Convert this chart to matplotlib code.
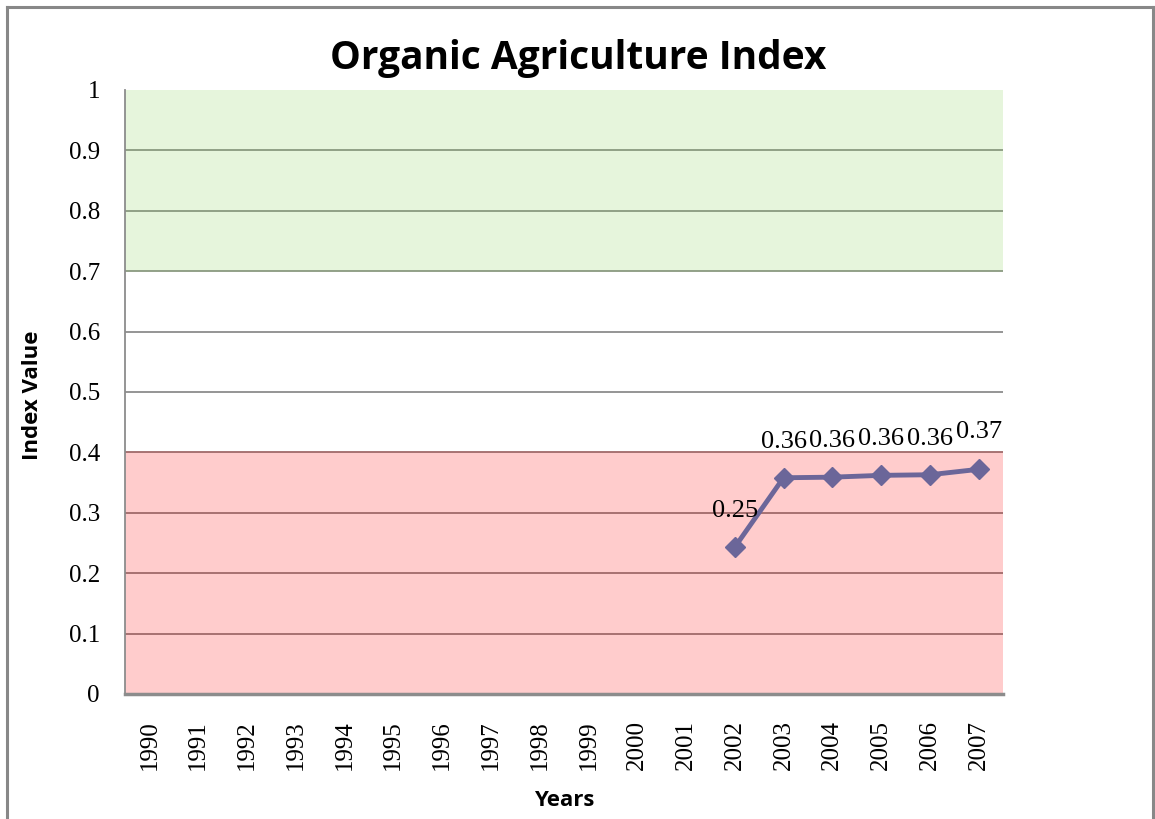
import matplotlib
matplotlib.use("Agg")
import matplotlib.pyplot as plt
from matplotlib.lines import Line2D

years = [str(y) for y in range(1990, 2008)]
index_values = [None] * 12 + [0.243, 0.358, 0.359, 0.362, 0.363, 0.372]
data_labels = [None] * 12 + ["0.25", "0.36", "0.36", "0.36", "0.36", "0.37"]
yticks = [0, 0.1, 0.2, 0.3, 0.4, 0.5, 0.6, 0.7, 0.8, 0.9, 1.0]
ytick_labels = ["0", "0.1", "0.2", "0.3", "0.4", "0.5", "0.6", "0.7", "0.8", "0.9", "1"]
red_band = (0.0, 0.4)
green_band = (0.7, 1.0)

W, H = 1155, 819
fig = plt.figure(figsize=(W / 100, H / 100), dpi=100)
left, right, top, bottom = 125, 1003, 90, 694
ax = fig.add_axes([left / W, 1 - bottom / H, (right - left) / W, (bottom - top) / H])

n = len(years)
ax.set_xlim(-0.5, n - 0.5)
ax.set_ylim(0, 1)

ax.axhspan(*red_band, color="#FFCCCC", zorder=0, lw=0)
ax.axhspan(*green_band, color="#E6F5DC", zorder=0, lw=0)

for v in yticks[1:-1]:
    if v <= red_band[1] + 1e-9:
        c = "#A06A6A"
    elif v >= green_band[0] - 1e-9:
        c = "#8A9A80"
    else:
        c = "#8C8C8C"
    ax.axhline(v, color=c, lw=1.3, zorder=1)

xs = [i for i, v in enumerate(index_values) if v is not None]
ys = [v for v in index_values if v is not None]
ax.plot(xs, ys, color="#6B6699", lw=3.5, marker="D", ms=10.5, zorder=3)

for i, (v, lab) in enumerate(zip(index_values, data_labels)):
    if v is None:
        continue
    off = 27 if i == n - 1 else 26
    ax.annotate(lab, (i, v), xytext=(0, off), textcoords="offset points",
                ha="center", va="center", fontsize=19, family="Liberation Serif")

ax.set_xticks(range(n))
ax.set_xticklabels(years, rotation=90, fontsize=18, family="Liberation Serif")
ax.set_yticks(yticks)
ax.set_yticklabels(ytick_labels, fontsize=18, family="Liberation Serif")
ax.tick_params(axis="both", length=0)
ax.tick_params(axis="x", pad=19)
ax.tick_params(axis="y", pad=18)

for s in ["top", "right"]:
    ax.spines[s].set_visible(False)
ax.spines["left"].set_color("#8C8C8C")
ax.spines["left"].set_linewidth(1.3)
ax.spines["bottom"].set_color("#8C8C8C")
ax.spines["bottom"].set_linewidth(2.5)

fig.text(564 / W, 1 - 800 / H, "Years", ha="center", va="center",
         fontsize=16, fontweight="bold", family="Open Sans")
fig.text(33 / W, 1 - 395 / H, "Index Value", ha="center", va="center", rotation=90,
         fontsize=16, fontweight="bold", family="Open Sans")
fig.text(578 / W, 1 - 59 / H, "Organic Agriculture Index", ha="center", va="center",
         fontsize=28, fontweight="bold", family="Open Sans")

# figure border
border = dict(color="#888888", lw=2.2, transform=fig.transFigure)
fig.add_artist(Line2D([7 / W, 7 / W], [0, 1 - 7 / H], **border))
fig.add_artist(Line2D([7 / W, 1153 / W], [1 - 7 / H, 1 - 7 / H], **border))
fig.add_artist(Line2D([1153 / W, 1153 / W], [0, 1 - 7 / H], **border))

fig.savefig("out.png", dpi=100)
